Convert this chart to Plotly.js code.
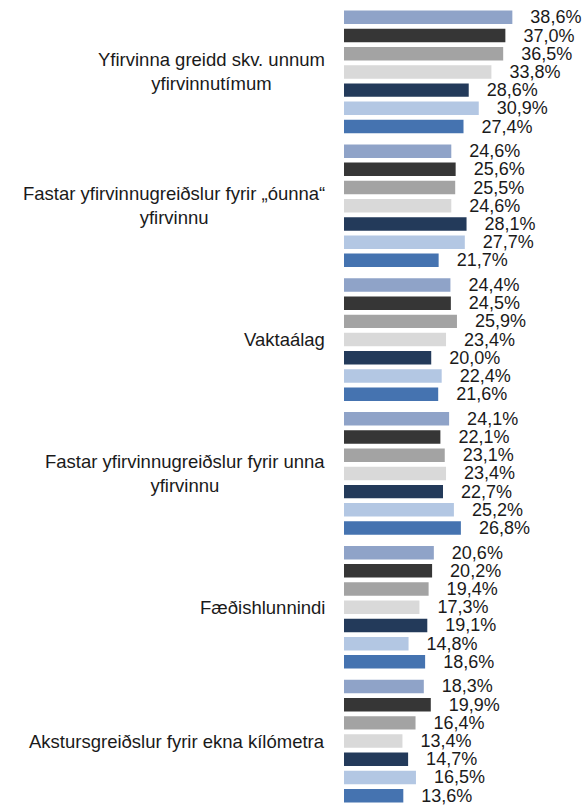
<!DOCTYPE html>
<html>
<head>
<meta charset="utf-8">
<script src="https://cdn.plot.ly/plotly-3.0.1.min.js"></script>
<style>html,body{margin:0;padding:0;background:#fff;}#chart{width:583px;height:808px;}</style>
</head>
<body>
<div id="chart"></div>
<script>
var categories = [
  "Yfirvinna greidd skv. unnum<br>yfirvinnutímum",
  "Fastar yfirvinnugreiðslur fyrir „óunna“<br>yfirvinnu",
  "Vaktaálag",
  "Fastar yfirvinnugreiðslur fyrir unna<br>yfirvinnu",
  "Fæðishlunnindi",
  "Akstursgreiðslur fyrir ekna kílómetra"
];
var seriesNames = ["Röð 1", "Röð 2", "Röð 3", "Röð 4", "Röð 5", "Röð 6", "Röð 7"];
var series1 = [38.6, 24.6, 24.4, 24.1, 20.6, 18.3];
var series2 = [37.0, 25.6, 24.5, 22.1, 20.2, 19.9];
var series3 = [36.5, 25.5, 25.9, 23.1, 19.4, 16.4];
var series4 = [33.8, 24.6, 23.4, 23.4, 17.3, 13.4];
var series5 = [28.6, 28.1, 20.0, 22.7, 19.1, 14.7];
var series6 = [30.9, 27.7, 22.4, 25.2, 14.8, 16.5];
var series7 = [27.4, 21.7, 21.6, 26.8, 18.6, 13.6];
var seriesValues = [series1, series2, series3, series4, series5, series6, series7];
var seriesColors = ["#8FA3C8", "#363636", "#A3A3A3", "#D9D9D9", "#233A5A", "#B3C7E3", "#4573B0"];

function fmt(v) { return "\u00a0\u00a0\u00a0" + v.toFixed(1).replace(".", ",") + "%"; }

var traces = seriesValues.map(function (vals, i) {
  return {
    type: "bar",
    orientation: "h",
    name: seriesNames[i],
    x: vals,
    y: categories,
    marker: { color: seriesColors[i] },
    text: vals.map(fmt),
    textposition: "outside",
    constraintext: "none",
    cliponaxis: false,
    textfont: { family: "Liberation Sans", size: 18, color: "#1a1a1a" },
    hoverinfo: "x+name"
  };
});

var annotations = categories.map(function (c) {
  return {
    xref: "paper", yref: "y", x: 0, y: c, xanchor: "right", yanchor: "middle",
    xshift: -17, align: "center", showarrow: false, text: c,
    font: { family: "Liberation Sans", size: 18.5, color: "#1a1a1a" }
  };
});

var layout = {
  width: 583, height: 808,
  margin: { l: 344, r: 0, t: 5, b: 0, pad: 0 },
  paper_bgcolor: "#fff", plot_bgcolor: "#fff",
  barmode: "group", bargap: 0.048, bargroupgap: 0.26,
  showlegend: false,
  xaxis: { range: [0, 54.8], visible: false, fixedrange: true },
  yaxis: { autorange: "reversed", showticklabels: false, showline: false, showgrid: false, zeroline: false, ticks: "" },
  annotations: annotations
};

Plotly.newPlot("chart", traces, layout, { displayModeBar: false, staticPlot: true });
</script>
</body>
</html>
